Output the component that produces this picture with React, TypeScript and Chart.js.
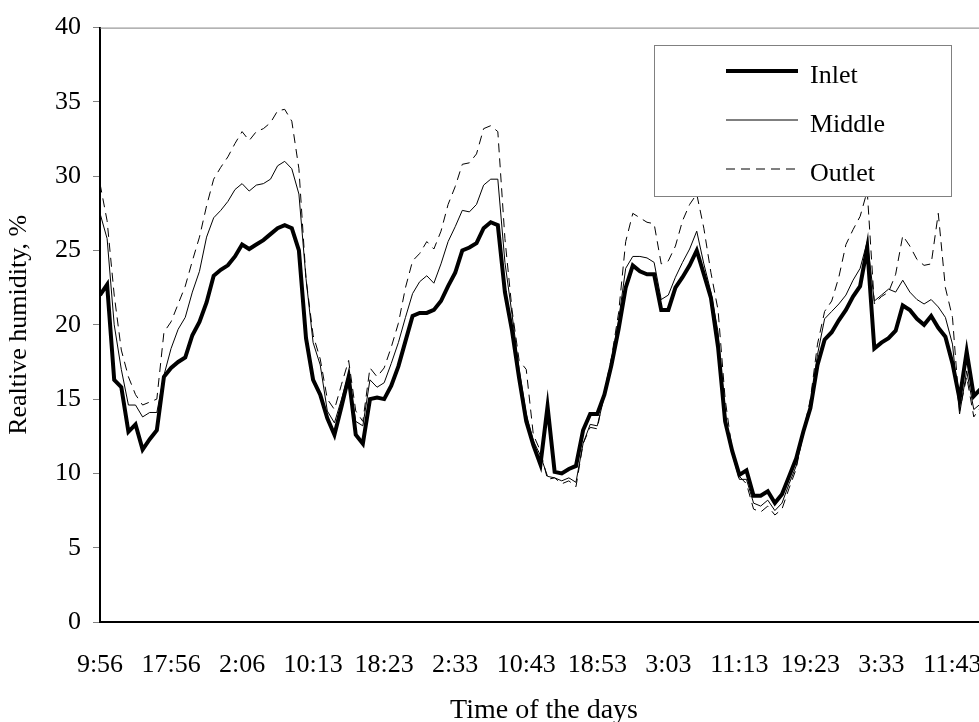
import React, { useEffect, useRef } from "react";
import { Chart, registerables } from "chart.js";

Chart.register(...registerables);

// Tick labels on the time axis (one every 10 samples)
const timeLabels = ["9:56", "17:56", "2:06", "10:13", "18:23", "2:33", "10:43", "18:53", "3:03", "11:13", "19:23", "3:33", "11:43"];
const samplesPerLabel = 10;

// Relative humidity (%) per sample
const inlet = [
  22.0, 22.7, 16.3, 15.8, 12.8, 13.3, 11.6, 12.3, 12.9, 16.5,
  17.1, 17.5, 17.8, 19.3, 20.2, 21.5, 23.3, 23.7, 24.0, 24.6,
  25.4, 25.1, 25.4, 25.7, 26.1, 26.5, 26.7, 26.5, 25.0, 19.1,
  16.3, 15.3, 13.7, 12.6, 14.5, 16.5, 12.6, 12.0, 15.0, 15.1,
  15.0, 15.9, 17.2, 18.9, 20.6, 20.8, 20.8, 21.0, 21.6, 22.6,
  23.5, 25.0, 25.2, 25.5, 26.5, 26.9, 26.7, 22.2, 19.6, 16.4,
  13.5, 11.9, 10.6, 14.5, 10.1, 10.0, 10.3, 10.5, 12.9, 14.0,
  14.0, 15.3, 17.3, 19.7, 22.5, 24.0, 23.6, 23.4, 23.4, 21.0,
  21.0, 22.5, 23.2, 24.0, 25.0, 23.4, 21.8, 18.5, 13.5, 11.5,
  9.9, 10.2, 8.5, 8.5, 8.8, 8.0, 8.6, 9.8, 11.0, 12.8,
  14.4, 17.3, 19.0, 19.5, 20.3, 21.0, 21.9, 22.6, 25.2, 18.4,
  18.8, 19.1, 19.6, 21.3, 21.0, 20.4, 20.0, 20.6, 19.8, 19.2,
  17.4, 15.0, 18.2, 15.2, 15.7, 15.0,
];
const middle = [
  27.5, 25.8, 20.0, 17.0, 14.6, 14.6, 13.8, 14.1, 14.1, 16.6,
  18.4, 19.7, 20.5, 22.2, 23.6, 25.9, 27.2, 27.7, 28.3, 29.1,
  29.5, 29.0, 29.4, 29.5, 29.8, 30.7, 31.0, 30.5, 28.8, 23.1,
  18.8, 17.3, 14.2, 13.4, 15.0, 16.7, 13.5, 13.2, 16.3, 15.8,
  16.1, 17.4, 18.8, 20.5, 22.1, 22.9, 23.3, 22.8, 24.1, 25.6,
  26.6, 27.7, 27.6, 28.1, 29.4, 29.8, 29.8, 24.2, 20.7, 17.0,
  14.0, 12.2, 11.2, 9.8, 9.7, 9.5, 9.7, 9.4, 12.0, 13.3,
  13.2, 15.2, 17.7, 20.3, 23.8, 24.6, 24.6, 24.5, 24.2, 21.7,
  22.0, 23.2, 24.2, 25.1, 26.3, 24.1, 22.2, 19.5, 14.0, 11.3,
  9.6, 9.6, 8.0, 7.8, 8.2, 7.5, 8.0, 9.3, 10.5, 12.6,
  14.6, 18.0, 20.4, 20.9, 21.4, 22.0, 23.0, 23.8, 25.6, 21.6,
  22.0, 22.4, 22.2, 23.0, 22.2, 21.7, 21.4, 21.7, 21.2, 20.5,
  18.7, 14.0, 16.9, 14.3, 14.7, 14.5,
];
const outlet = [
  29.5, 27.0, 22.0, 18.3, 16.5, 15.3, 14.6, 14.8, 15.0, 19.5,
  20.2, 21.4, 22.6, 24.3, 25.9, 28.0, 29.8, 30.6, 31.3, 32.2,
  33.0, 32.4, 33.0, 33.2, 33.6, 34.4, 34.5, 33.7, 30.5, 23.1,
  19.3, 17.7, 15.0, 14.3, 16.0, 17.6, 14.2, 13.5, 17.1, 16.5,
  17.1, 18.5, 20.1, 22.5, 24.3, 24.8, 25.6, 25.1, 26.3, 28.1,
  29.3, 30.8, 30.9, 31.5, 33.2, 33.4, 33.0, 25.8, 21.0, 17.6,
  17.0, 12.6, 11.5, 9.6, 9.7, 9.3, 9.5, 9.1, 12.0, 13.1,
  13.0, 15.5, 17.8, 20.8, 25.6, 27.5, 27.2, 26.9, 26.8, 24.1,
  24.3, 25.3, 27.0, 28.1, 28.8, 26.5, 23.5, 21.0, 15.0, 11.5,
  9.8, 9.3, 7.6, 7.4, 7.8, 7.2, 7.6, 9.0, 10.3, 12.8,
  15.0, 18.7, 20.9, 21.6, 23.2, 25.4, 26.4, 27.3, 29.0, 21.4,
  21.9, 22.2, 23.4, 26.0, 25.3, 24.4, 24.0, 24.1, 27.5, 22.5,
  20.5, 14.2, 16.5, 13.8, 14.5, 14.3,
];

const seriesNames = ["Inlet", "Middle", "Outlet"];
const yTitle = "Realtive humidity, %";
const xTitle = "Time of the days";

const FONT_FAMILY = "'Liberation Serif', 'Times New Roman', serif";
const FONT_SIZE = 26;

const framePlugin = {
  id: "frame",
  beforeDatasetsDraw(chart: any) {
    const { ctx, chartArea } = chart;
    const { left, right, top, bottom } = chartArea;
    ctx.save();
    ctx.strokeStyle = "#808080";
    ctx.lineWidth = 1;
    ctx.beginPath();
    ctx.moveTo(left, top + 0.5);
    ctx.lineTo(right, top + 0.5);
    ctx.moveTo(right - 0.5, top);
    ctx.lineTo(right - 0.5, bottom);
    ctx.stroke();
    ctx.restore();
  },
};

const boxedLegend = {
  id: "boxedLegend",
  afterDatasetsDraw(chart: any) {
    const { ctx, chartArea } = chart;
    const x0 = Math.round(chartArea.right - 334);
    const y0 = Math.round(chartArea.top + 17);
    const w = 297;
    const h = 151;
    ctx.save();
    ctx.fillStyle = "#ffffff";
    ctx.fillRect(x0, y0, w, h);
    ctx.strokeStyle = "#808080";
    ctx.lineWidth = 1;
    ctx.setLineDash([]);
    ctx.strokeRect(x0 + 0.5, y0 + 0.5, w, h);
    chart.data.datasets.forEach((ds: any, k: number) => {
      const y = y0 + 26 + k * 49;
      ctx.beginPath();
      ctx.setLineDash(ds.borderDash || []);
      ctx.lineWidth = ds.borderWidth;
      ctx.strokeStyle = ds.borderColor;
      ctx.moveTo(x0 + 72, y);
      ctx.lineTo(x0 + 144, y);
      ctx.stroke();
      ctx.setLineDash([]);
      ctx.fillStyle = "#000";
      ctx.font = `${FONT_SIZE}px ${FONT_FAMILY}`;
      ctx.textAlign = "left";
      ctx.textBaseline = "alphabetic";
      ctx.fillText(ds.label, x0 + 156, y + 12);
    });
    ctx.restore();
  },
};

export default function App() {
  const canvasRef = useRef<HTMLCanvasElement | null>(null);

  useEffect(() => {
    if (!canvasRef.current) return;
    const toPoints = (arr: number[]) => arr.map((v, i) => ({ x: i, y: v }));
    const font = { family: FONT_FAMILY, size: FONT_SIZE };
    const chart = new Chart(canvasRef.current, {
      type: "line",
      data: {
        datasets: [
          { label: seriesNames[0], data: toPoints(inlet), borderColor: "#000", borderWidth: 4, pointRadius: 0, tension: 0, fill: false },
          { label: seriesNames[1], data: toPoints(middle), borderColor: "#000", borderWidth: 1, pointRadius: 0, tension: 0, fill: false },
          { label: seriesNames[2], data: toPoints(outlet), borderColor: "#000", borderWidth: 1, borderDash: [9, 6], pointRadius: 0, tension: 0, fill: false },
        ],
      },
      options: {
        animation: false,
        responsive: false,
        devicePixelRatio: 1,
        layout: { padding: { left: 0, right: 12, top: 25, bottom: 0 } },
        plugins: {
          legend: { display: false },
          tooltip: { enabled: false },
        },
        scales: {
          x: {
            type: "linear",
            min: 0,
            max: inlet.length - 1,
            afterBuildTicks: (s: any) => {
              s.ticks = timeLabels.map((_, k) => ({ value: k * samplesPerLabel }));
            },
            afterFit: (s: any) => {
              s.height = 105;
              s.paddingRight = 0;
              s.paddingLeft = 0;
            },
            ticks: {
              autoSkip: false,
              maxRotation: 0,
              minRotation: 0,
              color: "#000",
              font,
              padding: 20,
              callback: (v: any) => timeLabels[Math.round(Number(v) / samplesPerLabel)] ?? "",
            },
            grid: { display: false },
            border: { display: true, color: "#000", width: 2 },
            title: { display: true, text: xTitle, color: "#000", font: { family: FONT_FAMILY, size: 28 }, padding: { top: 0, bottom: 0 } },
          },
          y: {
            min: 0,
            max: 40,
            afterFit: (s: any) => {
              s.width = 100;
            },
            ticks: { stepSize: 5, color: "#000", font, padding: 12 },
            grid: { drawOnChartArea: false, drawTicks: true, tickLength: 7, color: "#808080", lineWidth: 1 },
            border: { display: true, color: "#000", width: 2 },
            title: { display: true, text: yTitle, color: "#000", font, padding: { top: 4, bottom: 0 } },
          },
        },
      } as any,
      plugins: [framePlugin, boxedLegend],
    });
    return () => chart.destroy();
  }, []);

  return (
    <div style={{ position: "fixed", left: 0, top: 0, width: 979, height: 722, overflow: "hidden", background: "#fff" }}>
      <canvas ref={canvasRef} width={1000} height={727} style={{ width: 1000, height: 727, display: "block" }} />
    </div>
  );
}
